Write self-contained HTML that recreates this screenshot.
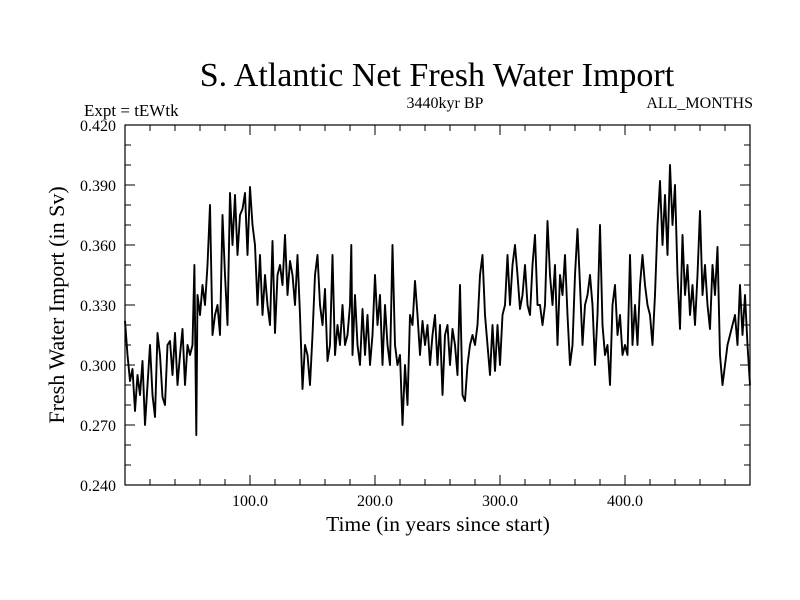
<!DOCTYPE html>
<html><head><meta charset="utf-8"><style>
body{margin:0;background:#fff;width:800px;height:600px;overflow:hidden}
svg{display:block}
text{font-family:"Liberation Serif",serif;fill:#000}
</style></head><body>
<svg id="chart" width="800" height="600" viewBox="0 0 800 600">
<text x="437" y="86" font-size="34" text-anchor="middle">S. Atlantic Net Fresh Water Import</text>
<text x="84" y="116" font-size="17">Expt = tEWtk</text>
<text x="445" y="108" font-size="16" text-anchor="middle">3440kyr BP</text>
<text x="753" y="108" font-size="16" text-anchor="end">ALL_MONTHS</text>
<text transform="translate(64,305) rotate(-90)" font-size="22" text-anchor="middle">Fresh Water Import (in Sv)</text>
<text x="438" y="531" font-size="21.5" text-anchor="middle">Time (in years since start)</text>
<g id="axes"></g>
<g id="series"></g>
<rect x="125" y="125" width="625" height="360" fill="none" stroke="#000" stroke-width="1.2"/>
</svg>
<script>
const yTicks=[0.240,0.270,0.300,0.330,0.360,0.390,0.420];
const yTickLabels=["0.240","0.270","0.300","0.330","0.360","0.390","0.420"];
const xTicks=[100,200,300,400];
const xTickLabels=["100.0","200.0","300.0","400.0"];
const years=[0,2,4,6,8,10,12,14,16,18,20,22,24,26,28,30,32,34,36,38,40,42,44,46,48,50,52,54,55.5,57,58,60,62,64,66,68,70,72,74,76,78,80,82,84,86,88,90,92,94,96,98,100,102,104,106,108,110,112,114,116,118,120,122,124,126,128,130,132,134,136,138,140,142,144,146,148,150,152,154,156,158,160,162,164,166,168,170,172,174,176,178,180,181,182,184,186,188,190,192,194,196,198,200,202,204,206,208,210,212,214,216,218,220,222,224,226,228,230,232,234,236,238,240,242,244,246,248,250,252,254,256,258,260,262,264,266,268,270,272,274,276,278,280,282,284,286,288,290,292,294,296,298,300,302,304,306,308,310,312,314,316,318,320,322,324,326,328,330,332,334,336,338,340,342,344,346,348,350,352,354,356,358,360,362,364,366,368,370,372,374,376,378,380,382,384,386,388,390,392,394,396,398,400,402,404,406,408,410,412,414,416,418,420,422,424,426,428,430,432,434,436,438,440,442,444,446,448,450,452,454,456,458,460,462,464,466,468,470,472,474,476,478,480,482,484,486,488,490,492,494,496,498,500];
const values=[0.322,0.305,0.292,0.298,0.277,0.295,0.285,0.302,0.270,0.290,0.310,0.285,0.274,0.316,0.305,0.284,0.280,0.310,0.312,0.295,0.316,0.290,0.305,0.318,0.290,0.310,0.305,0.310,0.350,0.265,0.335,0.325,0.340,0.330,0.350,0.380,0.315,0.325,0.330,0.315,0.375,0.345,0.320,0.386,0.360,0.385,0.355,0.375,0.378,0.386,0.355,0.389,0.370,0.360,0.330,0.355,0.325,0.345,0.330,0.320,0.362,0.316,0.345,0.350,0.340,0.365,0.335,0.352,0.345,0.330,0.355,0.325,0.288,0.310,0.305,0.290,0.315,0.345,0.355,0.330,0.320,0.338,0.302,0.310,0.355,0.305,0.320,0.310,0.330,0.310,0.315,0.330,0.360,0.305,0.335,0.310,0.300,0.328,0.305,0.325,0.300,0.315,0.345,0.320,0.335,0.300,0.330,0.310,0.300,0.360,0.310,0.300,0.305,0.270,0.300,0.280,0.325,0.320,0.342,0.325,0.305,0.322,0.310,0.320,0.300,0.315,0.325,0.300,0.320,0.285,0.315,0.320,0.300,0.318,0.310,0.295,0.340,0.285,0.282,0.300,0.310,0.315,0.310,0.320,0.345,0.355,0.325,0.310,0.295,0.320,0.297,0.320,0.300,0.325,0.330,0.355,0.330,0.350,0.360,0.345,0.328,0.335,0.350,0.330,0.325,0.350,0.365,0.330,0.330,0.320,0.330,0.372,0.345,0.330,0.350,0.310,0.345,0.335,0.355,0.325,0.300,0.310,0.345,0.368,0.340,0.310,0.330,0.335,0.345,0.330,0.300,0.325,0.370,0.320,0.305,0.310,0.290,0.330,0.340,0.315,0.325,0.305,0.310,0.305,0.355,0.310,0.330,0.310,0.340,0.355,0.340,0.330,0.325,0.310,0.335,0.370,0.392,0.360,0.385,0.355,0.400,0.370,0.390,0.345,0.318,0.365,0.335,0.350,0.325,0.340,0.320,0.345,0.377,0.335,0.350,0.330,0.318,0.350,0.335,0.359,0.305,0.290,0.300,0.310,0.315,0.320,0.325,0.310,0.340,0.315,0.335,0.310,0.290];
const NS="http://www.w3.org/2000/svg";
const X0=125,X1=750,Y0=485,Y1=125,XMIN=0,XMAX=500,YMIN=0.24,YMAX=0.42;
function sx(v){return X0+(v-XMIN)/(XMAX-XMIN)*(X1-X0);}
function sy(v){return Y0-(v-YMIN)/(YMAX-YMIN)*(Y0-Y1);}
const axes=document.getElementById('axes');
function mk(tag,attrs,parent){const e=document.createElementNS(NS,tag);for(const k in attrs)e.setAttribute(k,attrs[k]);parent.appendChild(e);return e;}
for(let i=0;i<=18;i++){
  const v=YMIN+i*0.01,y=sy(v),major=(i%3===0),len=major?10:6;
  const t1=mk('line',{x1:X0,x2:X0+len,y1:y,y2:y,stroke:'#000','stroke-width':1},axes);
  
  
  const t2=mk('line',{x1:X1,x2:X1-len,y1:y,y2:y,stroke:'#000','stroke-width':1},axes);
  
  
}
yTicks.forEach((v,i)=>{
  const t=mk('text',{x:116,y:sy(v)+6,'font-size':16,'text-anchor':'end'},axes);
  t.textContent=yTickLabels[i];
  
  
});
for(let v=20;v<XMAX;v+=20){
  const x=sx(v),major=(v%100===0),len=major?10:6;
  const t1=mk('line',{x1:x,x2:x,y1:Y0,y2:Y0-len,stroke:'#000','stroke-width':1},axes);
  
  
  const t2=mk('line',{x1:x,x2:x,y1:Y1,y2:Y1+len,stroke:'#000','stroke-width':1},axes);
  
  
}
xTicks.forEach((v,i)=>{
  const t=mk('text',{x:sx(v),y:506,'font-size':16,'text-anchor':'middle'},axes);
  t.textContent=xTickLabels[i];
  
  
});
const pts=years.map((yr,i)=>sx(yr).toFixed(1)+','+sy(values[i]).toFixed(1)).join(' ');
const line=mk('polyline',{points:pts,fill:'none',stroke:'#000','stroke-width':1.9,'stroke-linejoin':'round'},document.getElementById('series'));


</script>
</body></html>
